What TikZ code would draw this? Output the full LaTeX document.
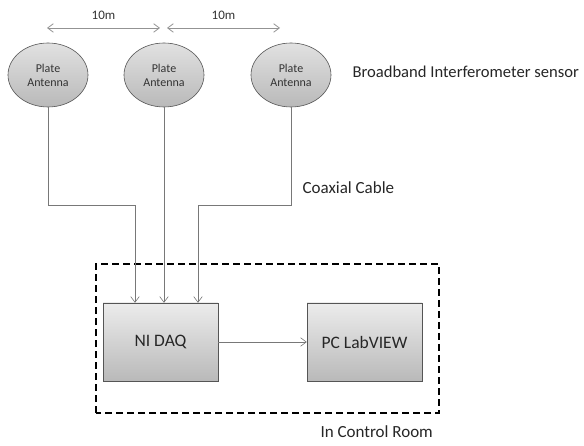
\documentclass[tikz,border=0pt]{standalone}
\usepackage{fontspec}
\setmainfont{Carlito}
\usetikzlibrary{arrows.meta,positioning,shapes.geometric,shadows,calc}
\definecolor{wire}{RGB}{120,120,120}
\definecolor{rim}{RGB}{85,85,85}
\definecolor{boxtop}{RGB}{236,236,236}
\definecolor{boxbot}{RGB}{185,185,185}
\tikzset{
  >={Straight Barb[length=2mm,width=3mm]},
  antenna/.style={ellipse,draw=rim,semithick,top color=boxtop!90!gray,bottom color=boxbot,
    minimum width=80pt,minimum height=64pt,inner sep=0pt,align=center,
    font=\fontsize{12}{14}\selectfont,text=black!80},
  unit/.style={draw=rim,top color=boxtop,bottom color=boxbot,
    minimum width=115pt,minimum height=78pt,font=\fontsize{17.5}{20}\selectfont,text=black!85,
    drop shadow={shadow xshift=1pt,shadow yshift=-1pt,opacity=0.35}},
  cable/.style={->,draw=wire,semithick},
  note/.style={font=\fontsize{17}{20}\selectfont,text=black!85,anchor=west},
  span/.style={<->,draw=wire!80,thick},
}
\begin{document}
\begin{tikzpicture}[x=1pt,y=1pt]
  \useasboundingbox (0,0) rectangle (584,445);
  % sensors
  \node[antenna] (ant1) at (48,370) {Plate\\Antenna};
  \node[antenna] (ant2) at (164,370) {Plate\\Antenna};
  \node[antenna] (ant3) at (291,370) {Plate\\Antenna};
  \node[note,font=\fontsize{16.6}{20}\selectfont] (sensor) at (349,373) {Broadband Interferometer sensor};
  % spacing marks
  \coordinate (m1) at (47,417);
  \coordinate (m2) at (160,417);
  \coordinate (m3) at (167,417);
  \coordinate (m4) at (280,417);
  \draw[span] (m1) -- (m2) node[midway,above=5pt,font=\fontsize{13}{14}\selectfont,text=black!80] {10m};
  \draw[span] (m3) -- (m4) node[midway,above=5pt,font=\fontsize{13}{14}\selectfont,text=black!80] {10m};
  % control room
  \node[unit] (daq) at (160.5,103) {NI DAQ};
  \node[unit] (pc) at (364.5,103) {PC LabVIEW};
  \draw[black,line width=2pt,dash pattern=on 7pt off 4pt] (96,32) rectangle (439,181);
  \node[note] (room) at (317,13) {In Control Room};
  % cables
  \node[note] (coax) at (299,257) {Coaxial Cable};
  \coordinate (j1) at (ant1.south |- 0,240);
  \coordinate (j3) at (ant3.south |- 0,240);
  \draw[cable] (ant1.south) -- (j1) -| ($(daq.north)+(-25.5,0)$);
  \draw[cable] (ant2.south) -- (ant2.south |- daq.north);
  \draw[cable] (ant3.south) -- (j3) -| ($(daq.north)+(37.5,0)$);
  \draw[cable] (daq) -- (pc);
\end{tikzpicture}
\end{document}
